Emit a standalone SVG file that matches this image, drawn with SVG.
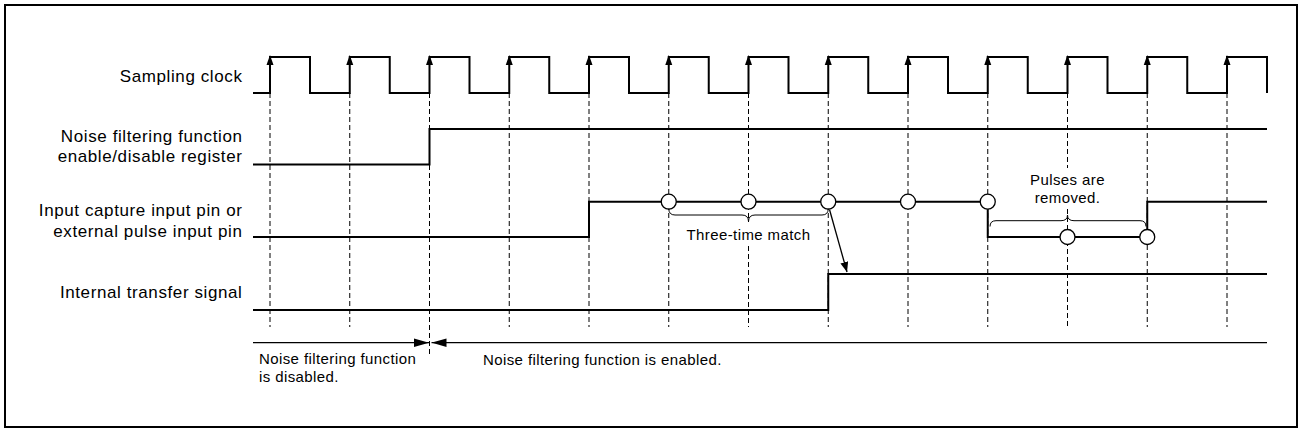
<svg xmlns="http://www.w3.org/2000/svg" xmlns:xlink="http://www.w3.org/1999/xlink" width="1301" height="434" viewBox="0 0 1301 434">
  <style>
    .frame { fill: #fff; stroke: #000; stroke-width: 2; }
    .sig { fill: none; stroke: #000; stroke-width: 2; stroke-linejoin: miter; }
    .guide { fill: none; stroke: #000; stroke-width: 1; stroke-dasharray: 5 3; }
    .thin { fill: none; stroke: #000; stroke-width: 1.3; }
    .brace { fill: none; stroke: #000; stroke-width: 1; }
    .pt { fill: #fff; stroke: #000; stroke-width: 1.3; }
    text { font-family: "Liberation Sans", Arial, Helvetica, sans-serif; fill: #000; }
    .lbl { font-size: 17px; letter-spacing: 0.6px; text-anchor: end; }
    .ann { font-size: 15px; letter-spacing: 0.4px; }
    .mid { text-anchor: middle; }
  </style>
  <defs>
    <path id="clkArrow" d="M-3.5,10 L0,0 L3.5,10 Z" fill="#000"/>
    <marker id="arr" viewBox="0 0 10 8" refX="10" refY="4" markerWidth="10" markerHeight="8" markerUnits="userSpaceOnUse" orient="auto">
      <path d="M0,0 L10,4 L0,8 Z" fill="#000"/>
    </marker>
    <marker id="arrAnn" viewBox="0 0 15 8.5" refX="15" refY="4.25" markerWidth="15" markerHeight="8.5" markerUnits="userSpaceOnUse" orient="auto">
      <path d="M0,0 L15,4.25 L0,8.5 Z" fill="#000"/>
    </marker>
  </defs>

  <rect class="frame" x="5" y="5" width="1292" height="422"/>

  <!-- dashed sampling guides -->
  <g id="guides">
    <line class="guide" x1="270" y1="93" x2="270" y2="327"/>
    <line class="guide" x1="349.75" y1="93" x2="349.75" y2="327"/>
    <line class="guide" x1="429.5" y1="93" x2="429.5" y2="357"/>
    <line class="guide" x1="509.25" y1="93" x2="509.25" y2="327"/>
    <line class="guide" x1="589" y1="93" x2="589" y2="327"/>
    <line class="guide" x1="668.75" y1="93" x2="668.75" y2="327"/>
    <line class="guide" x1="748.5" y1="93" x2="748.5" y2="222"/>
    <line class="guide" x1="748.5" y1="246" x2="748.5" y2="327"/>
    <line class="guide" x1="828.25" y1="93" x2="828.25" y2="327"/>
    <line class="guide" x1="908" y1="93" x2="908" y2="327"/>
    <line class="guide" x1="987.75" y1="93" x2="987.75" y2="327"/>
    <line class="guide" x1="1067.5" y1="93" x2="1067.5" y2="168"/>
    <line class="guide" x1="1067.5" y1="209" x2="1067.5" y2="327"/>
    <line class="guide" x1="1147.25" y1="93" x2="1147.25" y2="327"/>
    <line class="guide" x1="1227" y1="93" x2="1227" y2="327"/>
  </g>

  <!-- Sampling clock -->
  <g id="sampling-clock">
    <text class="lbl" x="242.5" y="82">Sampling clock</text>
    <path class="sig" d="M253,93 H270 V57 H310 V93 H349.75 V57 H389.75 V93 H429.5 V57 H469.5 V93 H509.25 V57 H549.25 V93 H589 V57 H629 V93 H668.75 V57 H708.75 V93 H748.5 V57 H788.5 V93 H828.25 V57 H868.25 V93 H908 V57 H948 V93 H987.75 V57 H1027.75 V93 H1067.5 V57 H1107.5 V93 H1147.25 V57 H1187.25 V93 H1227 V57 H1267 V93"/>
    <use xlink:href="#clkArrow" x="270" y="55"/>
    <use xlink:href="#clkArrow" x="349.75" y="55"/>
    <use xlink:href="#clkArrow" x="429.5" y="55"/>
    <use xlink:href="#clkArrow" x="509.25" y="55"/>
    <use xlink:href="#clkArrow" x="589" y="55"/>
    <use xlink:href="#clkArrow" x="668.75" y="55"/>
    <use xlink:href="#clkArrow" x="748.5" y="55"/>
    <use xlink:href="#clkArrow" x="828.25" y="55"/>
    <use xlink:href="#clkArrow" x="908" y="55"/>
    <use xlink:href="#clkArrow" x="987.75" y="55"/>
    <use xlink:href="#clkArrow" x="1067.5" y="55"/>
    <use xlink:href="#clkArrow" x="1147.25" y="55"/>
    <use xlink:href="#clkArrow" x="1227" y="55"/>
  </g>

  <!-- Noise filtering enable register -->
  <g id="enable-register">
    <text class="lbl" x="242.5" y="141.7">Noise filtering function</text>
    <text class="lbl" x="242.5" y="161.7">enable/disable register</text>
    <path class="sig" d="M253,164.5 H429.5 V129 H1267"/>
  </g>

  <!-- Input capture pin -->
  <g id="input-pin">
    <text class="lbl" x="242.5" y="216">Input capture input pin or</text>
    <text class="lbl" x="242.5" y="236.7">external pulse input pin</text>
    <path class="sig" d="M253,237 H589 V201.7 H987.75 V237 H1147.25 V201.7 H1267"/>
    <circle class="pt" cx="668.75" cy="201.7" r="7.5"/>
    <circle class="pt" cx="748.5" cy="201.7" r="7.5"/>
    <circle class="pt" cx="828.25" cy="201.7" r="7.5"/>
    <circle class="pt" cx="908" cy="201.7" r="7.5"/>
    <circle class="pt" cx="987.75" cy="201.7" r="7.5"/>
    <circle class="pt" cx="1067.5" cy="237" r="7.5"/>
    <circle class="pt" cx="1147.25" cy="237" r="7.5"/>
  </g>

  <!-- Internal transfer signal -->
  <g id="internal-transfer">
    <text class="lbl" x="242.5" y="298.3">Internal transfer signal</text>
    <path class="sig" d="M253,310 H828.25 V274 H1267"/>
  </g>

  <!-- Three-time match brace -->
  <g id="three-time-match">
    <path class="brace" d="M668.75,208.5 Q668.75,215 675,215 L742,215 Q748.5,215 748.5,221.7 Q748.5,215 755,215 L822,215 Q828.25,215 828.25,208.5"/>
    <text class="ann mid" x="748.5" y="240">Three-time match</text>
  </g>

  <!-- Pulses removed brace -->
  <g id="pulses-removed">
    <path class="brace" d="M990,226.5 Q990,220.7 996,220.7 L1061,220.7 Q1067.5,220.7 1067.5,215 Q1067.5,220.7 1074,220.7 L1140,220.7 Q1146,220.7 1146,226.5"/>
    <text class="ann mid" x="1067.5" y="185">Pulses are</text>
    <text class="ann mid" x="1067.5" y="203.3">removed.</text>
  </g>

  <!-- connectors -->
  <g id="connectors">
    <line class="thin" x1="829.5" y1="209.5" x2="847" y2="272" marker-end="url(#arr)"/>
    <line class="thin" x1="253" y1="342.7" x2="429" y2="342.7" marker-end="url(#arrAnn)"/>
    <line class="thin" x1="1267" y1="342.7" x2="431.5" y2="342.7" marker-end="url(#arrAnn)"/>
  </g>

  <!-- period annotations -->
  <g id="filter-disabled">
    <text class="ann" x="259" y="364">Noise filtering function</text>
    <text class="ann" x="259" y="382">is disabled.</text>
  </g>
  <g id="filter-enabled">
    <text class="ann" x="483" y="364.5">Noise filtering function is enabled.</text>
  </g>
</svg>
